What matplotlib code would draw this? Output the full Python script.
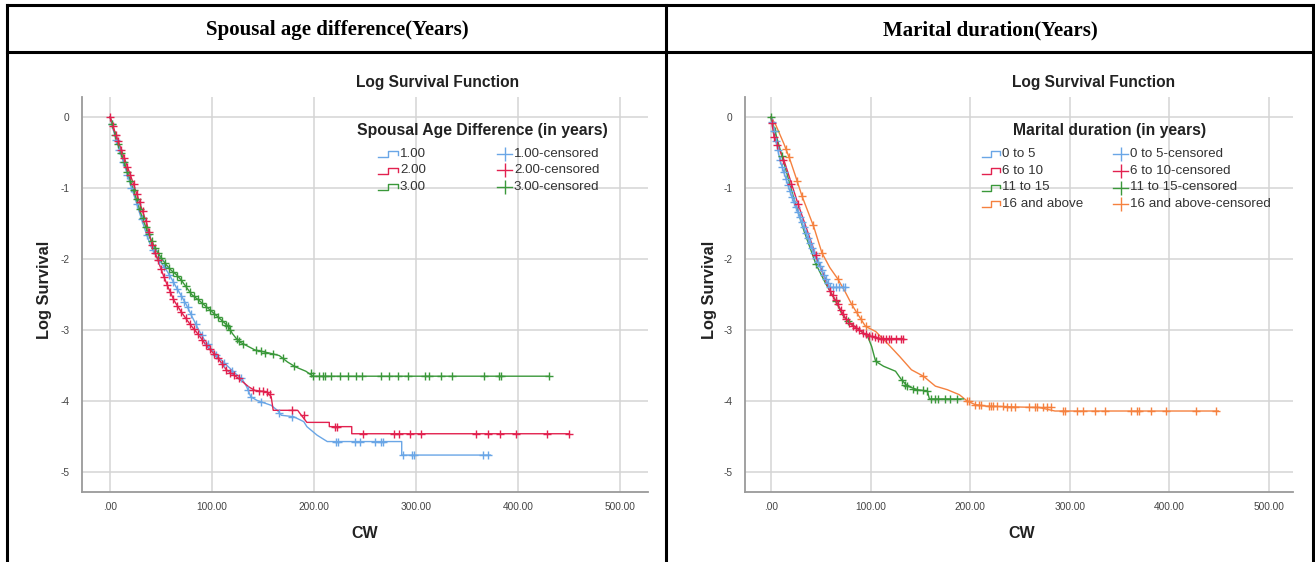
"""Log survival curves (KM) for spousal age difference and marital duration, SPSS style."""
import matplotlib
matplotlib.use('Agg')
import matplotlib.pyplot as plt
from matplotlib.lines import Line2D

plt.rcParams.update({"font.family": ["Liberation Sans", "DejaVu Sans"], "font.size": 8})

W, H = 1315, 562

# --- colours (SPSS default palette) ---
C_BLUE, C_RED, C_GREEN, C_ORANGE = '#6aa6e6', '#e2214f', '#3a983a', '#f5813f'

# --- Left panel: Spousal age difference, curve vertices (CW, log survival) ---
sad_1_t = [0, 5, 10, 15, 20, 25, 30, 35, 40, 45, 50, 55, 60, 65, 70, 75, 80, 87, 93, 99, 106, 114, 122,
           130, 134, 138, 144, 158, 164, 168, 180, 190, 193, 203, 213, 286, 286, 373]
sad_1_s = [0, -0.28, -0.5, -0.72, -0.95, -1.17, -1.4, -1.62, -1.82, -1.95, -2.05, -2.15, -2.27, -2.4, -2.52,
           -2.65, -2.8, -3.0, -3.15, -3.26, -3.38, -3.49, -3.6, -3.7, -3.8, -3.94, -3.99, -4.06, -4.13, -4.2,
           -4.22, -4.29, -4.36, -4.48, -4.57, -4.57, -4.76, -4.76]
sad_2_t = [0, 5, 10, 15, 20, 24, 30, 36, 41, 47, 52, 57, 63, 70, 79, 87, 95, 101, 107, 114, 120, 126, 136,
           142, 154, 158, 160, 184, 186, 193, 215, 215, 237, 237, 450]
sad_2_s = [0, -0.22, -0.42, -0.62, -0.82, -0.99, -1.25, -1.5, -1.8, -2.02, -2.22, -2.4, -2.59, -2.75, -2.93,
           -3.07, -3.23, -3.32, -3.42, -3.56, -3.62, -3.68, -3.8, -3.85, -3.87, -3.94, -4.13, -4.13, -4.17,
           -4.3, -4.3, -4.36, -4.36, -4.46, -4.46]
sad_3_t = [0, 5, 10, 15, 20, 25, 30, 35, 40, 45, 50, 55, 60, 65, 70, 75, 80, 87, 95, 103, 110, 116, 120,
           126, 134, 142, 158, 166, 174, 182, 192, 199, 430]
sad_3_s = [0, -0.25, -0.47, -0.68, -0.9, -1.12, -1.35, -1.55, -1.72, -1.87, -1.98, -2.08, -2.16, -2.22, -2.3,
           -2.4, -2.5, -2.58, -2.68, -2.78, -2.87, -2.95, -3.05, -3.16, -3.22, -3.28, -3.33, -3.36, -3.45,
           -3.52, -3.58, -3.65, -3.65]

# censored observations (CW, log survival)
sad_1_cens = [(2, -0.1), (6, -0.33), (9, -0.46), (13, -0.63), (17, -0.82), (21, -1.0), (26, -1.22), (31, -1.44),
              (36, -1.66), (42, -1.88), (48, -2.01), (53, -2.11), (58, -2.22), (62, -2.32), (66, -2.42),
              (70, -2.52), (73, -2.6), (76, -2.68), (79, -2.77), (84, -2.91), (90, -3.07), (96, -3.2),
              (104, -3.35), (112, -3.46), (120, -3.57), (128, -3.68), (135, -3.84), (138, -3.94), (148, -4.01),
              (166, -4.17), (178, -4.22), (222, -4.57), (224, -4.57), (240, -4.57), (245, -4.57), (260, -4.57),
              (266, -4.57), (268, -4.57), (287, -4.76), (296, -4.76), (298, -4.76), (366, -4.76), (371, -4.76)]
sad_2_cens = [(0, 0), (3, -0.13), (6, -0.26), (8, -0.34), (11, -0.46), (14, -0.58), (17, -0.7), (20, -0.82),
              (23, -0.94), (26, -1.08), (29, -1.2), (32, -1.33), (35, -1.46), (38, -1.62), (41, -1.8),
              (44, -1.92), (47, -2.02), (50, -2.14), (53, -2.26), (56, -2.36), (59, -2.47), (62, -2.56),
              (66, -2.66), (70, -2.75), (74, -2.83), (78, -2.91), (82, -2.98), (86, -3.05), (90, -3.14),
              (94, -3.21), (98, -3.27), (102, -3.34), (106, -3.4), (110, -3.48), (114, -3.56), (118, -3.6),
              (122, -3.64), (126, -3.68), (140, -3.84), (146, -3.86), (150, -3.86), (154, -3.87), (157, -3.9),
              (178, -4.13), (190, -4.2), (221, -4.36), (223, -4.36), (248, -4.46), (278, -4.46), (283, -4.46),
              (294, -4.46), (305, -4.46), (359, -4.46), (371, -4.46), (382, -4.46), (398, -4.46), (428, -4.46),
              (450, -4.46)]
sad_3_cens = [(2, -0.1), (5, -0.25), (8, -0.38), (11, -0.51), (14, -0.64), (17, -0.77), (20, -0.9), (23, -1.03),
              (26, -1.16), (29, -1.3), (32, -1.43), (35, -1.55), (38, -1.65), (41, -1.75), (44, -1.84),
              (47, -1.92), (50, -1.98), (54, -2.06), (58, -2.13), (62, -2.18), (66, -2.24), (70, -2.3),
              (74, -2.38), (78, -2.46), (82, -2.52), (86, -2.57), (90, -2.62), (94, -2.67), (98, -2.72),
              (102, -2.77), (106, -2.82), (110, -2.87), (114, -2.93), (116, -2.95), (118, -3.0), (124, -3.13),
              (126, -3.16), (130, -3.19), (143, -3.28), (148, -3.3), (152, -3.32), (160, -3.34), (170, -3.4),
              (180, -3.5), (197, -3.6), (199, -3.65), (205, -3.65), (209, -3.65), (211, -3.65), (217, -3.65),
              (225, -3.65), (233, -3.65), (241, -3.65), (247, -3.65), (266, -3.65), (274, -3.65), (282, -3.65),
              (292, -3.65), (309, -3.65), (313, -3.65), (325, -3.65), (335, -3.65), (367, -3.65), (381, -3.65),
              (383, -3.65), (430, -3.65)]

# --- Right panel: Marital duration ---
md_1_t = [0, 1, 5, 9, 15, 21, 30, 38, 45, 52, 59, 74]
md_1_s = [0, -0.07, -0.34, -0.61, -0.87, -1.13, -1.45, -1.74, -1.98, -2.19, -2.4, -2.4]
md_2_t = [0, 1, 3, 13, 27, 45, 59, 67, 75, 81, 89, 93, 101, 109, 133]
md_2_s = [0, -0.09, -0.28, -0.61, -1.22, -1.95, -2.45, -2.64, -2.84, -2.93, -3.0, -3.05, -3.09, -3.12, -3.12]
md_3_t = [0, 4, 11, 22, 33, 45, 55, 65, 71, 77, 89, 97, 101, 105, 113, 125, 131, 137, 147, 157, 159, 193]
md_3_s = [0, -0.2, -0.55, -1.1, -1.6, -2.07, -2.35, -2.59, -2.77, -2.88, -3.0, -3.09, -3.23, -3.44, -3.51,
          -3.58, -3.7, -3.79, -3.84, -3.86, -3.97, -3.97]
md_4_t = [0, 5, 13, 19, 25, 31, 37, 43, 51, 59, 67, 74, 81, 89, 95, 105, 117, 129, 141, 153, 165, 177, 189,
          197, 205, 215, 237, 269, 285, 449]
md_4_s = [0, -0.12, -0.38, -0.6, -0.85, -1.11, -1.33, -1.55, -1.91, -2.12, -2.28, -2.45, -2.64, -2.82, -2.95,
          -3.02, -3.19, -3.37, -3.56, -3.65, -3.79, -3.84, -3.91, -4.0, -4.05, -4.07, -4.08, -4.09, -4.14, -4.14]

md_1_cens = [(1, -0.07), (3, -0.2), (5, -0.34), (7, -0.47), (9, -0.61), (11, -0.7), (13, -0.78), (15, -0.87),
             (17, -0.96), (19, -1.04), (21, -1.13), (23, -1.2), (25, -1.27), (27, -1.34), (29, -1.41),
             (31, -1.48), (33, -1.55), (35, -1.63), (37, -1.7), (39, -1.77), (41, -1.84), (43, -1.91),
             (45, -1.98), (47, -2.04), (49, -2.1), (51, -2.16), (53, -2.22), (55, -2.28), (57, -2.34),
             (59, -2.4), (62, -2.4), (65, -2.4), (68, -2.4), (72, -2.4), (74, -2.4)]
md_2_cens = [(1, -0.09), (3, -0.28), (6, -0.4), (12, -0.6), (20, -0.95), (27, -1.22), (45, -1.95), (59, -2.45),
             (62, -2.5), (65, -2.58), (67, -2.64), (70, -2.72), (72, -2.78), (75, -2.84), (78, -2.9),
             (82, -2.95), (85, -2.97), (88, -3.0), (92, -3.04), (95, -3.06), (98, -3.08), (101, -3.09),
             (104, -3.1), (107, -3.11), (110, -3.12), (112, -3.12), (115, -3.12), (118, -3.12), (120, -3.12),
             (125, -3.12), (130, -3.12), (133, -3.12)]
md_3_cens = [(0, 0), (4, -0.2), (11, -0.55), (45, -2.07), (65, -2.59), (77, -2.88), (105, -3.44), (131, -3.7),
             (135, -3.77), (137, -3.79), (143, -3.83), (147, -3.84), (153, -3.85), (157, -3.86), (161, -3.97),
             (165, -3.97), (168, -3.97), (175, -3.97), (180, -3.97), (187, -3.97)]
md_4_cens = [(15, -0.45), (18, -0.57), (26, -0.9), (31, -1.11), (42, -1.52), (51, -1.91), (67, -2.28),
             (81, -2.64), (86, -2.75), (90, -2.84), (95, -2.95), (153, -3.65), (197, -4.0), (199, -4.0),
             (205, -4.05), (209, -4.06), (211, -4.06), (219, -4.07), (221, -4.07), (223, -4.07), (227, -4.07),
             (233, -4.07), (237, -4.08), (241, -4.08), (245, -4.08), (259, -4.09), (265, -4.09), (267, -4.09),
             (273, -4.09), (277, -4.09), (281, -4.09), (293, -4.14), (295, -4.14), (307, -4.14), (313, -4.14),
             (325, -4.14), (335, -4.14), (361, -4.14), (367, -4.14), (369, -4.14), (381, -4.14), (397, -4.14),
             (427, -4.14), (447, -4.14)]

sad_labels = ['1.00', '2.00', '3.00']
md_labels = ['0 to 5', '6 to 10', '11 to 15', '16 and above']
xticks = [0, 100, 200, 300, 400, 500]
xticklabels = ['.00', '100.00', '200.00', '300.00', '400.00', '500.00']
yticks = [0, -1, -2, -3, -4, -5]


def fx(px):
    return px / W


def fy(py):
    return 1 - py / H


fig = plt.figure(figsize=(W / 100, H / 100), dpi=100)

# --- table frame ---
for xs, ys in [((7, 1313), (5, 5)), ((7, 1313), (52, 52)), ((7, 7), (5, 562)),
               ((666, 666), (5, 562)), ((1313, 1313), (5, 562))]:
    fig.add_artist(Line2D([fx(xs[0]), fx(xs[1])], [fy(ys[0]), fy(ys[1])], color='black', lw=2.2,
                          transform=fig.transFigure))
fig.text(fx(337), fy(30), 'Spousal age difference(Years)', ha='center', va='center',
         family='Liberation Serif', fontsize=15, fontweight='bold')
fig.text(fx(990), fy(30), 'Marital duration(Years)', ha='center', va='center',
         family='Liberation Serif', fontsize=15, fontweight='bold')


def setup_axes(rect, xlim):
    ax = fig.add_axes(rect)
    ax.set_xlim(*xlim)
    ax.set_ylim(-5.28, 0.28)
    ax.set_xticks(xticks)
    ax.set_xticklabels(xticklabels)
    ax.set_yticks(yticks)
    ax.set_yticklabels([str(v) for v in yticks])
    ax.tick_params(length=0, labelsize=7.3, labelcolor='#444444')
    ax.tick_params(axis='y', pad=9)
    ax.tick_params(axis='x', pad=7)
    ax.grid(True, color='#d4d4d4', lw=1.1)
    ax.set_axisbelow(True)
    for s in ['top', 'right']:
        ax.spines[s].set_visible(False)
    for s in ['left', 'bottom']:
        ax.spines[s].set_color('#9a9a9a')
        ax.spines[s].set_linewidth(1.3)
    return ax


def draw_group(ax, t, s, cens, color):
    ax.plot(t, s, color=color, lw=1.0, zorder=3)
    cx = [c[0] for c in cens]
    cy = [c[1] for c in cens]
    ax.plot(cx, cy, ls='none', marker='+', ms=6, mew=1.0, color=color, zorder=4)


def step_glyph(x0, x1, y, color):
    w = x1 - x0
    xs = [x0, x0 + 0.5 * w, x0 + 0.5 * w, x1, x1]
    ys = [y + 3, y + 3, y - 3, y - 3, y + 1]
    fig.add_artist(Line2D([fx(v) for v in xs], [fy(v) for v in ys], color=color, lw=1.0,
                          transform=fig.transFigure))


def cross_glyph(x0, x1, y, color):
    fig.add_artist(Line2D([fx(x0), fx(x1)], [fy(y), fy(y)], color=color, lw=1.0, transform=fig.transFigure))
    fig.add_artist(Line2D([fx((x0 + x1) / 2)], [fy(y)], marker='|', ms=10, mew=1.0, color=color,
                          transform=fig.transFigure))


def draw_legend(title, tx, labels, colors, rows, c1, c2):
    fig.text(fx(tx), fy(130), title, ha='center', va='center', fontsize=11.3, fontweight='bold',
             color='#222222')
    for lab, col, ry in zip(labels, colors, rows):
        step_glyph(c1[0], c1[1], ry, col)
        fig.text(fx(c1[1] + 2), fy(ry), lab, ha='left', va='center', fontsize=9.6, color='#333333')
        cross_glyph(c2[0], c2[1], ry, col)
        fig.text(fx(c2[1] + 2), fy(ry), lab + '-censored', ha='left', va='center', fontsize=9.6,
                 color='#333333')


# --- Left panel ---
ax1 = setup_axes([fx(82), fy(492), fx(648) - fx(82), fy(97) - fy(492)], (-27.5, 527.5))
draw_group(ax1, sad_1_t, sad_1_s, sad_1_cens, C_BLUE)
draw_group(ax1, sad_3_t, sad_3_s, sad_3_cens, C_GREEN)
draw_group(ax1, sad_2_t, sad_2_s, sad_2_cens, C_RED)
fig.text(fx(438), fy(83), 'Log Survival Function', ha='center', va='center', fontsize=11.2,
         fontweight='bold', color='#222222')
fig.text(fx(45), fy(290), 'Log Survival', ha='center', va='center', rotation=90, fontsize=11.8,
         fontweight='bold', color='#222222')
fig.text(fx(365), fy(533), 'CW', ha='center', va='center', fontsize=11.5, fontweight='bold', color='#222222')
draw_legend('Spousal Age Difference (in years)', 482, sad_labels, [C_BLUE, C_RED, C_GREEN],
            [154, 170.5, 187], (378, 398), (497, 512))

# --- Right panel ---
ax2 = setup_axes([fx(745), fy(492), fx(1293) - fx(745), fy(97) - fy(492)], (-26.1, 524))
draw_group(ax2, md_4_t, md_4_s, md_4_cens, C_ORANGE)
draw_group(ax2, md_3_t, md_3_s, md_3_cens, C_GREEN)
draw_group(ax2, md_1_t, md_1_s, md_1_cens, C_BLUE)
draw_group(ax2, md_2_t, md_2_s, md_2_cens, C_RED)
fig.text(fx(1094), fy(83), 'Log Survival Function', ha='center', va='center', fontsize=11.2,
         fontweight='bold', color='#222222')
fig.text(fx(710), fy(290), 'Log Survival', ha='center', va='center', rotation=90, fontsize=11.8,
         fontweight='bold', color='#222222')
fig.text(fx(1022), fy(533), 'CW', ha='center', va='center', fontsize=11.5, fontweight='bold',
         color='#222222')
draw_legend('Marital duration (in years)', 1110, md_labels, [C_BLUE, C_RED, C_GREEN, C_ORANGE],
            [154, 171, 187.5, 204], (982, 1000), (1113, 1128))

fig.savefig('out.png', dpi=100, facecolor='white')
